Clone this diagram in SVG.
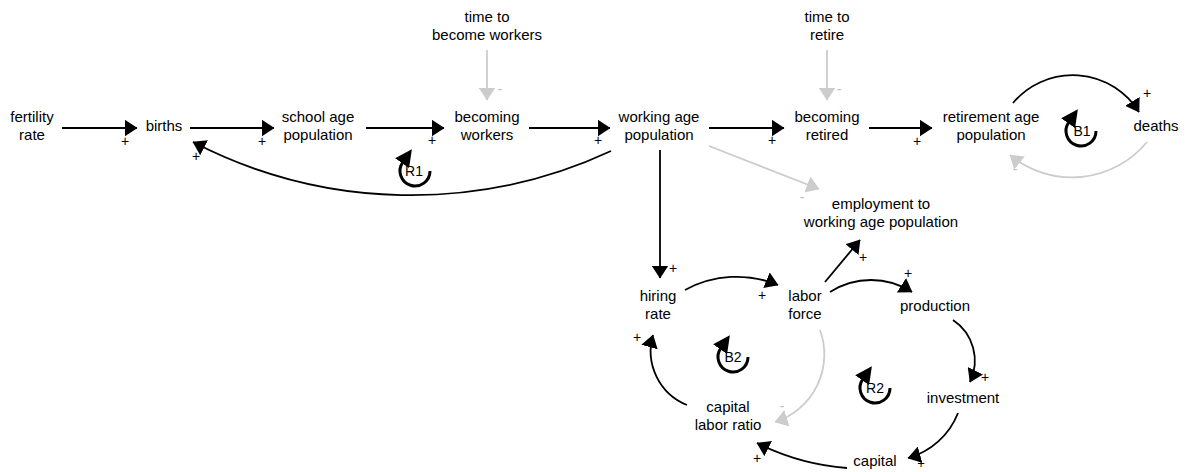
<svg xmlns="http://www.w3.org/2000/svg" width="1188" height="472" viewBox="0 0 1188 472">
  <style>
    text { font-family: "Liberation Sans", Arial, sans-serif; text-anchor: middle; }
    .lbl { font-size: 15px; fill: #000; }
    .pos { font-size: 14px; fill: #000; }
    .neg { font-size: 14px; fill: #bdbdbd; }
    .loopname { font-size: 14px; fill: #000; }
    .link { fill: none; stroke: #000; stroke-width: 1.8; marker-end: url(#ah); }
    .glink { fill: none; stroke: #cccccc; stroke-width: 1.8; marker-end: url(#ahg); }
    .loop { fill: none; stroke: #000; stroke-width: 3; marker-end: url(#lh); }
  </style>
  <defs>
    <marker id="ah" markerUnits="userSpaceOnUse" viewBox="0 0 13 17" markerWidth="13" markerHeight="17" refX="12.5" refY="8.5" orient="auto">
      <path d="M0,0 L13,8.5 L0,17 z" fill="#000"/>
    </marker>
    <marker id="ahg" markerUnits="userSpaceOnUse" viewBox="0 0 13 17" markerWidth="13" markerHeight="17" refX="12.5" refY="8.5" orient="auto">
      <path d="M0,0 L13,8.5 L0,17 z" fill="#cccccc"/>
    </marker>
    <marker id="lh" markerUnits="userSpaceOnUse" viewBox="0 0 17 17" markerWidth="17" markerHeight="17" refX="1" refY="8.5" orient="auto">
      <path d="M0,0 L17,8.5 L0,17 z" fill="#000"/>
    </marker>
  </defs>

  <rect width="1188" height="472" fill="#fff"/>

  <!-- connectors with polarity signs -->
  <g id="connectors">
    <g id="c-fertility-births"><path class="link" d="M62,128 L137,128"/><text class="pos" x="125" y="146">+</text></g>
    <g id="c-births-school"><path class="link" d="M190,128 L274,128"/><text class="pos" x="262" y="146">+</text></g>
    <g id="c-school-becomingworkers"><path class="link" d="M366,128 L444,128"/><text class="pos" x="432" y="145">+</text></g>
    <g id="c-becomingworkers-working"><path class="link" d="M529,128 L610,128"/><text class="pos" x="598" y="145">+</text></g>
    <g id="c-working-becomingretired"><path class="link" d="M709,128 L784,128"/><text class="pos" x="772" y="145">+</text></g>
    <g id="c-becomingretired-retirement"><path class="link" d="M869,128 L932,128"/><text class="pos" x="917" y="146">+</text></g>
    <g id="c-working-hiring"><path class="link" d="M660,150 L660,278"/><text class="pos" x="673" y="273">+</text></g>
    <g id="c-labor-employment"><path class="link" d="M825,282 L860,240"/><text class="pos" x="863" y="262">+</text></g>
    <g id="c-working-births"><path class="link" d="M611,151 A474,474 0 0 1 193,142"/><text class="pos" x="196" y="161">+</text></g>
    <g id="c-retirement-deaths"><path class="link" d="M1013,103 A78,78 0 0 1 1139,112"/><text class="pos" x="1147" y="98">+</text></g>
    <g id="c-hiring-labor"><path class="link" d="M685,290 A108,108 0 0 1 778,285"/><text class="pos" x="762" y="300">+</text></g>
    <g id="c-labor-production"><path class="link" d="M830,292 A76,76 0 0 1 912,292"/><text class="pos" x="908" y="278">+</text></g>
    <g id="c-production-investment"><path class="link" d="M953,320 A49,49 0 0 1 970,382"/><text class="pos" x="985" y="382">+</text></g>
    <g id="c-investment-capital"><path class="link" d="M958,413 A75,75 0 0 1 908,458"/><text class="pos" x="921" y="468" style="font-size:13px">+</text></g>
    <g id="c-capital-ratio"><path class="link" d="M847,468 A244,244 0 0 1 757,443"/><text class="pos" x="757" y="463">+</text></g>
    <g id="c-ratio-hiring"><path class="link" d="M687,405 A58,58 0 0 1 653,335"/><text class="pos" x="637" y="342">+</text></g>

    <g id="c-timeworkers-becomingworkers"><path class="glink" d="M487,50 L487,100"/><text class="neg" x="500" y="94">-</text></g>
    <g id="c-timeretire-becomingretired"><path class="glink" d="M827,50 L827,100"/><text class="neg" x="839" y="94">-</text></g>
    <g id="c-working-employment"><path class="glink" d="M709,146 L819,189"/><text class="neg" x="802" y="202">-</text></g>
    <g id="c-deaths-retirement"><path class="glink" d="M1147,142 A97,97 0 0 1 1010,155"/><text class="neg" x="1015" y="174">-</text></g>
    <g id="c-labor-ratio"><path class="glink" d="M820,330 A71,71 0 0 1 775,422"/><text class="neg" x="782" y="411">-</text></g>
  </g>

  <!-- feedback loop markers -->
  <g id="loops">
    <g id="loop-R1"><path class="loop" d="M430,171 A15,15 0 1 1 402.7,162.4"/><text class="loopname" x="414" y="176">R1</text></g>
    <g id="loop-B1"><path class="loop" d="M1096,131 A15,15 0 1 1 1068.7,122.4"/><text class="loopname" x="1082" y="136">B1</text></g>
    <g id="loop-B2"><path class="loop" d="M748,357 A15,15 0 1 1 720.7,348.4"/><text class="loopname" x="733" y="362">B2</text></g>
    <g id="loop-R2"><path class="loop" d="M890,388 A15,15 0 1 1 862.7,379.4"/><text class="loopname" x="875" y="393">R2</text></g>
  </g>

  <!-- variables -->
  <g id="fertility-rate"><text class="lbl" x="32" y="122">fertility</text><text class="lbl" x="32" y="140">rate</text></g>
  <g id="births"><text class="lbl" x="164" y="131">births</text></g>
  <g id="school-age-population"><text class="lbl" x="318" y="122">school age</text><text class="lbl" x="318" y="140">population</text></g>
  <g id="time-to-become-workers"><text class="lbl" x="487" y="22">time to</text><text class="lbl" x="487" y="40">become workers</text></g>
  <g id="becoming-workers"><text class="lbl" x="487" y="122">becoming</text><text class="lbl" x="487" y="140">workers</text></g>
  <g id="working-age-population"><text class="lbl" x="659" y="122">working age</text><text class="lbl" x="659" y="140">population</text></g>
  <g id="time-to-retire"><text class="lbl" x="827" y="22">time to</text><text class="lbl" x="827" y="40">retire</text></g>
  <g id="becoming-retired"><text class="lbl" x="827" y="122">becoming</text><text class="lbl" x="827" y="140">retired</text></g>
  <g id="retirement-age-population"><text class="lbl" x="991" y="122">retirement age</text><text class="lbl" x="991" y="140">population</text></g>
  <g id="deaths"><text class="lbl" x="1156" y="131">deaths</text></g>
  <g id="employment-to-working-age-population"><text class="lbl" x="881" y="209">employment to</text><text class="lbl" x="881" y="227">working age population</text></g>
  <g id="hiring-rate"><text class="lbl" x="658" y="301">hiring</text><text class="lbl" x="658" y="319">rate</text></g>
  <g id="labor-force"><text class="lbl" x="805" y="301">labor</text><text class="lbl" x="805" y="319">force</text></g>
  <g id="production"><text class="lbl" x="935" y="311">production</text></g>
  <g id="investment"><text class="lbl" x="963" y="403">investment</text></g>
  <g id="capital-labor-ratio"><text class="lbl" x="728" y="412">capital</text><text class="lbl" x="728" y="430">labor ratio</text></g>
  <g id="capital"><text class="lbl" x="875" y="466">capital</text></g>
</svg>
